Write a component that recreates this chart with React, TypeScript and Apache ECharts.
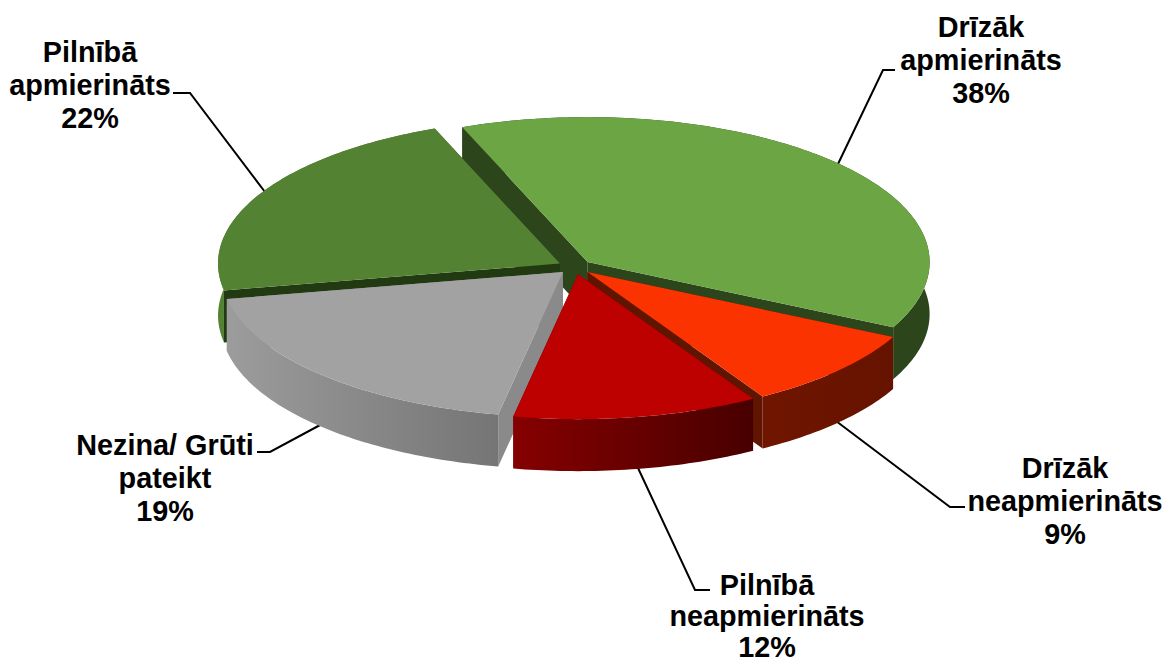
import React, { useEffect, useRef } from "react";
import * as echarts from "echarts";

// Data (clockwise from the start angle)
const labels = [
  "Drīzāk\napmierināts",
  "Drīzāk\nneapmierināts",
  "Pilnībā\nneapmierināts",
  "Nezina/ Grūti\npateikt",
  "Pilnībā\napmierināts",
];
const values = [38, 9, 12, 19, 22];

// Styles, parallel to the data
const topColors = ["#6ca544", "#fa3300", "#bd0000", "#a2a2a2", "#548233"];
const cutColors = ["#2d451b", "#5f1500", "#5f0000", "#8a8a8a", "#223a12"];
const rimFrom = ["#2d451b", "#701500", "#860000", "#9c9c9c", "#548233"];
const rimTo = ["#2d451b", "#651300", "#480000", "#757575", "#4d7a30"];

// Painter's order: back slices first
const drawOrder = [0, 4, 3, 1, 2];

// Layout
const CX = 575;
const CY = 267;
const RX = 342;
const RY = 145;
const DEPTH = 52;
const EXPLODE = 0.05;
const START_ANGLE = 111.5;
const FONT_SIZE = 28.8;
// Projection correction of each slice's clockwise end edge, in degrees
const endCorrection = [-1.4, -1.5, 0, 0, 0];

const labelCentres: number[][] = [
  [981, 27],
  [1065, 468],
  [767, 584.5],
  [165, 445],
  [90, 52],
];
const lineHeights = [33, 33, 31, 33, 33];
const leaders: number[][][] = [
  [[838, 164], [883, 70], [895, 70]],
  [[836, 421], [950, 507], [965, 507]],
  [[638, 468], [695, 590], [710, 590]],
  [[322, 424], [270, 452], [257, 452]],
  [[265, 192], [190, 93], [173, 93]],
];

const total = values.reduce((a, b) => a + b, 0);
const rad = (d: number) => (d * Math.PI) / 180;

function endAngle(i: number) {
  let upto = 0;
  for (let k = 0; k <= i; k++) upto += values[k];
  return START_ANGLE - (upto / total) * 360 + endCorrection[i];
}

function renderSlice(_params: any, api: any) {
  const i = api.value(0) as number;
  const a0 = i === 0 ? START_ANGLE : endAngle(i - 1);
  const a1 = endAngle(i);
  const mid = rad((a0 + a1) / 2);
  const ox = CX + EXPLODE * RX * Math.cos(mid);
  const oy = CY - EXPLODE * RY * Math.sin(mid);
  const arc: number[][] = [];
  const steps = Math.max(2, Math.ceil(a0 - a1));
  for (let s = 0; s <= steps; s++) {
    const a = rad(a0 + ((a1 - a0) * s) / steps);
    arc.push([ox + RX * Math.cos(a), oy - RY * Math.sin(a)]);
  }
  const down = (p: number[]) => [p[0], p[1] + DEPTH];
  const first = arc[0];
  const last = arc[arc.length - 1];
  const centre = [ox, oy];
  const rim = arc.concat(arc.slice().reverse().map(down));
  const cut = (p: number[]) => [centre, p, down(p), down(centre)];
  return {
    type: "group",
    children: [
      { type: "polygon", shape: { points: cut(first) }, style: { fill: cutColors[i] } },
      { type: "polygon", shape: { points: cut(last) }, style: { fill: cutColors[i] } },
      {
        type: "polygon",
        shape: { points: rim },
        style: {
          fill: new echarts.graphic.LinearGradient(0, 0, 1, 0, [
            { offset: 0, color: rimFrom[i] },
            { offset: 1, color: rimTo[i] },
          ]),
        },
      },
      { type: "polygon", shape: { points: [centre, ...arc] }, style: { fill: topColors[i] } },
    ],
  };
}

export default function App() {
  const ref = useRef<HTMLDivElement>(null);
  useEffect(() => {
    document.body.style.margin = "0";
    const chart = echarts.init(ref.current!, undefined, { renderer: "svg" });
    const textEls = labels.map((name, i) => ({
      type: "text",
      x: labelCentres[i][0],
      y: labelCentres[i][1] - lineHeights[i] / 2,
      silent: true,
      style: {
        text: `${name}\n${values[i]}%`,
        fill: "#000",
        font: `bold ${FONT_SIZE}px "Liberation Sans", Arial, sans-serif`,
        lineHeight: lineHeights[i],
        align: "center",
        verticalAlign: "top",
      },
    }));
    const lineEls = leaders.map((pts) => ({
      type: "polyline",
      silent: true,
      shape: { points: pts },
      style: { stroke: "#000", lineWidth: 2, fill: "none" },
    }));
    chart.setOption({
      animation: false,
      backgroundColor: "#ffffff",
      series: [
        {
          type: "custom",
          coordinateSystem: "none",
          silent: true,
          renderItem: renderSlice,
          data: drawOrder.map((i) => [i, values[i]]),
        },
      ],
      graphic: { elements: [...lineEls, ...textEls] },
    });
    return () => chart.dispose();
  }, []);
  return <div ref={ref} style={{ position: "fixed", left: 0, top: 0, width: 1165, height: 662 }} />;
}
